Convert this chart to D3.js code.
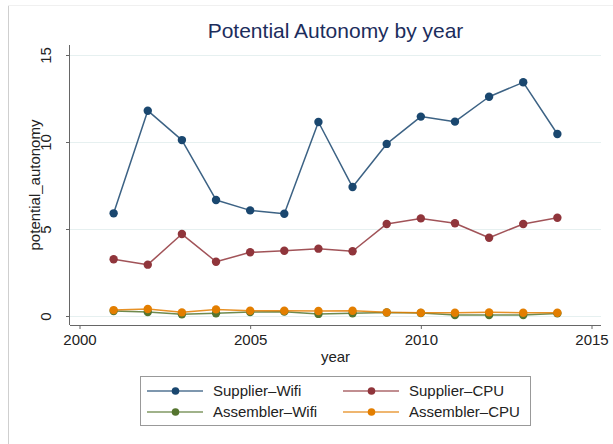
<!DOCTYPE html>
<html>
<head>
<meta charset="utf-8">
<script src="https://cdn.jsdelivr.net/npm/d3@7"></script>
<style>
  html, body { margin: 0; padding: 0; background: #fff; }
  svg { display: block; font-family: "Liberation Sans", Arial, Helvetica, sans-serif; }
</style>
</head>
<body>
<svg id="chart" width="613" height="444"></svg>
<script>
// Years and series values
const years = [2001, 2002, 2003, 2004, 2005, 2006, 2007, 2008, 2009, 2010, 2011, 2012, 2013, 2014];
const supplierWifi   = [5.90, 11.80, 10.11, 6.67, 6.07, 5.88, 11.15, 7.41, 9.89, 11.46, 11.17, 12.60, 13.43, 10.46];
const supplierCPU    = [3.26, 2.95, 4.71, 3.12, 3.66, 3.75, 3.87, 3.72, 5.29, 5.61, 5.33, 4.50, 5.29, 5.65];
const assemblerWifi  = [0.29, 0.23, 0.10, 0.16, 0.23, 0.25, 0.12, 0.16, 0.20, 0.17, 0.06, 0.06, 0.06, 0.15];
const assemblerCPU   = [0.34, 0.40, 0.21, 0.38, 0.30, 0.30, 0.29, 0.30, 0.21, 0.19, 0.19, 0.21, 0.19, 0.19];
const seriesNames    = ["Supplier–Wifi", "Supplier–CPU", "Assembler–Wifi", "Assembler–CPU"];
const seriesColors   = ["#1a476f", "#90353b", "#55752f", "#e37e00"];
const xTicks = [2000, 2005, 2010, 2015];
const yTicks = [0, 5, 10, 15];

const seriesValues = [supplierWifi, supplierCPU, assemblerWifi, assemblerCPU];

const svg = d3.select("#chart");

// frame edge on the left and top
svg.append("line").attr("x1", 8.5).attr("x2", 8.5).attr("y1", 5).attr("y2", 444)
  .attr("stroke", "#cfcfcf").attr("stroke-width", 1);
svg.append("line").attr("x1", 8).attr("x2", 613).attr("y1", 5.5).attr("y2", 5.5)
  .attr("stroke", "#f0f0f0").attr("stroke-width", 1);

// plot region
const plot = { left: 70, right: 601, top: 45, bottom: 325 };

const x = d3.scaleLinear().domain([2000, 2015]).range([79.5, 591.5]);
const y = d3.scaleLinear().domain([0, 15]).range([316, 55]);

// gridlines
svg.append("g").selectAll("line").data(yTicks).join("line")
  .attr("x1", plot.left).attr("x2", plot.right)
  .attr("y1", d => Math.round(y(d)) + 0.5).attr("y2", d => Math.round(y(d)) + 0.5)
  .attr("stroke", "#e6f0f0").attr("stroke-width", 1);

// x axis
const xAxis = d3.axisBottom(x).tickValues(xTicks).tickFormat(d3.format("d")).tickSize(4).tickPadding(5);
const gx = svg.append("g").attr("transform", `translate(0,${plot.bottom})`).call(xAxis);
gx.select(".domain").attr("d", `M${plot.left},0.5H${plot.right}`).attr("stroke", "#666");
gx.selectAll(".tick line").attr("stroke", "#666");
gx.selectAll(".tick text").attr("font-size", 15).attr("fill", "#222")
  .attr("font-family", "Liberation Sans, Arial, sans-serif");

// y axis
const yAxis = d3.axisLeft(y).tickValues(yTicks).tickSize(4).tickPadding(0);
const gy = svg.append("g").attr("transform", `translate(${plot.left},0)`).call(yAxis);
gy.select(".domain").attr("d", `M-0.5,${plot.top}V${plot.bottom}`).attr("stroke", "#666");
gy.selectAll(".tick line").attr("stroke", "#666");
gy.selectAll(".tick text")
  .attr("font-size", 15).attr("fill", "#222")
  .attr("font-family", "Liberation Sans, Arial, sans-serif")
  .attr("x", null).attr("dy", null)
  .attr("text-anchor", "middle")
  .attr("transform", "translate(-19,0) rotate(-90)");

// axis titles
svg.append("text").attr("x", (plot.left + plot.right) / 2).attr("y", 362)
  .attr("text-anchor", "middle").attr("font-size", 15).attr("fill", "#222").text("year");
svg.append("text").attr("transform", `translate(40,${(plot.top + plot.bottom) / 2}) rotate(-90)`)
  .attr("text-anchor", "middle").attr("font-size", 15).attr("fill", "#222").text("potential_autonomy");

// chart title
svg.append("text").attr("x", (plot.left + plot.right) / 2).attr("y", 38)
  .attr("text-anchor", "middle").attr("font-size", 21).attr("fill", "#1c2d5c")
  .text("Potential Autonomy by year");

// series lines and markers
const line = d3.line().x((d, i) => x(years[i])).y(d => y(d));
seriesValues.forEach((vals, k) => {
  const g = svg.append("g");
  g.append("path").datum(vals).attr("d", line)
    .attr("fill", "none").attr("stroke", seriesColors[k]).attr("stroke-width", 1.5)
    .attr("stroke-opacity", 0.85).attr("stroke-linejoin", "round");
  g.selectAll("circle").data(vals).join("circle")
    .attr("cx", (d, i) => x(years[i])).attr("cy", d => y(d)).attr("r", 4.2)
    .attr("fill", seriesColors[k]);
});

// legend
const legend = svg.append("g");
legend.append("rect").attr("x", 140.5).attr("y", 376.5).attr("width", 390).attr("height", 49)
  .attr("fill", "#fff").attr("stroke", "#999").attr("stroke-width", 1);
const colX = [147, 343];
const rowY = [391, 412];
seriesNames.forEach((name, k) => {
  const cx = colX[k % 2], cy = rowY[Math.floor(k / 2)];
  legend.append("line").attr("x1", cx).attr("x2", cx + 56).attr("y1", cy).attr("y2", cy)
    .attr("stroke", seriesColors[k]).attr("stroke-width", 1.5).attr("stroke-opacity", 0.75);
  legend.append("circle").attr("cx", cx + 28.5).attr("cy", cy).attr("r", 3.8).attr("fill", seriesColors[k]);
  legend.append("text").attr("x", cx + 66).attr("y", cy + 5.3)
    .attr("font-size", 15).attr("fill", "#222").text(name);
});
</script>
</body>
</html>
